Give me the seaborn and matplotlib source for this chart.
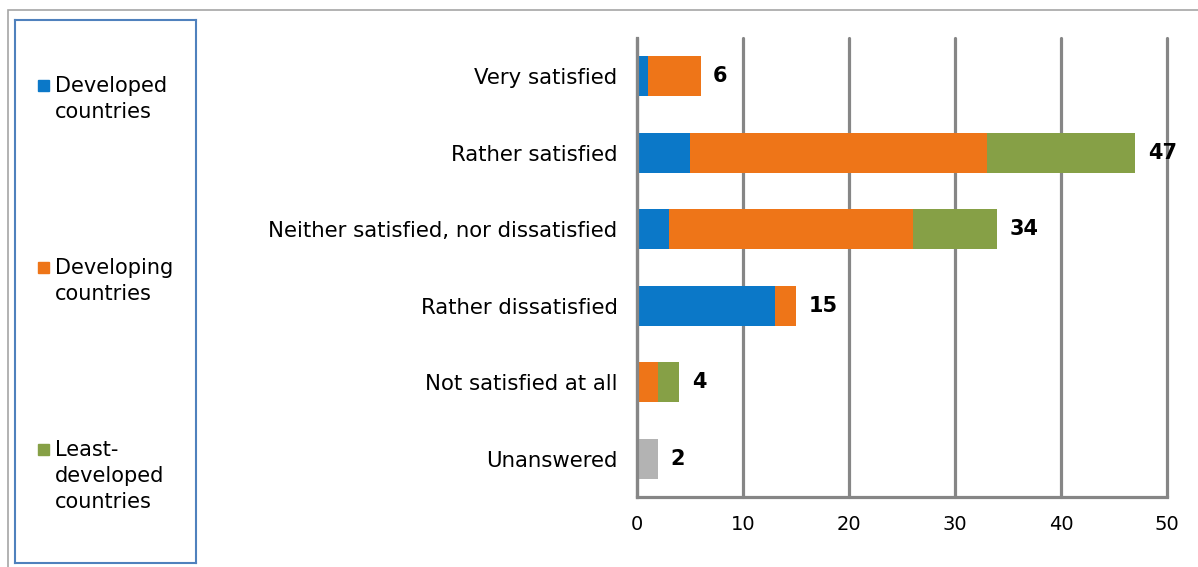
import pandas as pd
import seaborn as sns
import matplotlib.pyplot as plt
import matplotlib.patches as mpatches

# answers per category, split by country group
categories = ["Very satisfied", "Rather satisfied", "Neither satisfied, nor dissatisfied",
              "Rather dissatisfied", "Not satisfied at all", "Unanswered"]
developed = [1, 5, 3, 13, 0, 0]
developing = [5, 28, 23, 2, 2, 0]
least_developed = [0, 14, 8, 0, 2, 0]
unanswered = [0, 0, 0, 0, 0, 2]
totals = [6, 47, 34, 15, 4, 2]

group_names = ["Developed\ncountries", "Developing\ncountries", "Least-\ndeveloped\ncountries"]
colors = ["#0B78C8", "#EE7518", "#86A046"]
gray = "#B3B3B3"
grid_color = "#868686"

sns.set_style("white")
plt.rcParams['font.family'] = ['DejaVu Sans']
plt.rcParams['text.color'] = 'black'

df = pd.DataFrame({"cat": categories, "dev": developed, "ing": developing,
                   "ldc": least_developed, "na": unanswered})
# cumulative sums so layers can be drawn back to front
df["c1"] = df["dev"]
df["c2"] = df["dev"] + df["ing"]
df["c3"] = df["c2"] + df["ldc"]

W, H = 1198, 567
fig = plt.figure(figsize=(W / 100, H / 100), dpi=100)
ax = fig.add_axes([637 / W, 1 - 497 / H, (1167 - 637) / W, (497 - 38) / H])

for col, c in [("c3", colors[2]), ("c2", colors[1]), ("c1", colors[0]), ("na", gray)]:
    sns.barplot(data=df, y="cat", x=col, orient="h", color=c, width=0.52,
                saturation=1, ax=ax, zorder=3, linewidth=0)

ax.set_xlim(0, 50)
ax.set_xticks(range(0, 51, 10))
ax.set_ylim(5.5, -0.5)
ax.set_xlabel("")
ax.set_ylabel("")

# gridlines
ax.grid(axis="x", color=grid_color, linewidth=2.3, zorder=0)
ax.grid(axis="y", visible=False)
for gl in ax.get_xgridlines():
    gl.set_clip_on(False)
for s in ["top", "right"]:
    ax.spines[s].set_visible(False)
for s in ["left", "bottom"]:
    ax.spines[s].set_color(grid_color)
    ax.spines[s].set_linewidth(2.3)
    ax.spines[s].set_zorder(4)

# y ticks between categories
ax.set_yticks(range(len(categories)))
ax.set_yticklabels(categories)
ax.set_yticks([i - 0.5 for i in range(len(categories) + 1)], minor=True)
ax.tick_params(axis="y", which="major", length=0, pad=14, labelsize=15.3, labelcolor="black")
ax.tick_params(axis="y", which="minor", length=5, width=1.5, color=grid_color, direction="out")
ax.tick_params(axis="x", which="major", length=5, width=1.5, color=grid_color,
               direction="out", labelsize=14, labelcolor="black", pad=8)

for i, t in enumerate(totals):
    ax.annotate(str(t), xy=(t, i), xytext=(9, 0), textcoords="offset points",
                va="center", ha="left", fontsize=15, fontweight="bold", zorder=5,
                color="black")

# outer frame of the chart
fig.add_artist(mpatches.Rectangle((8 / W, -0.1), 1.2, 1 - 10 / H + 0.1,
                                  transform=fig.transFigure, fill=False,
                                  edgecolor="#A6A6A6", linewidth=1.2))

# legend panel
lax = fig.add_axes([15 / W, 1 - 563 / H, (196 - 15) / W, (563 - 20) / H])
lax.set_xticks([])
lax.set_yticks([])
for s in lax.spines.values():
    s.set_color("#4F81BD")
    s.set_linewidth(1.5)
lax.set_facecolor("white")

# first-line baselines of the legend entries, in pixels from the top
baselines = [92, 274, 456]
for name, c, yb in zip(group_names, colors, baselines):
    fig.add_artist(mpatches.Rectangle((38 / W, 1 - (yb - 1) / H), 11 / W, 11 / H,
                                      transform=fig.transFigure, color=c))
    fig.text(55 / W, 1 - (yb - 16) / H, name, ha="left", va="top", fontsize=15,
             linespacing=1.38, color="black")

fig.savefig("out.png", dpi=100)
